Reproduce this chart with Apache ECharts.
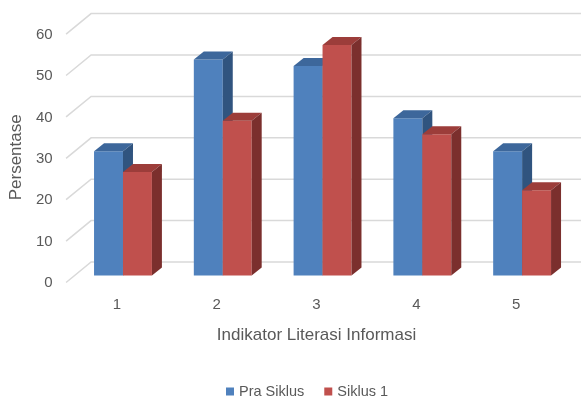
<!DOCTYPE html>
<html>
<head>
<meta charset="utf-8">
<script src="https://cdn.jsdelivr.net/npm/echarts@6/dist/echarts.min.js"></script>
<style>
  html, body { margin: 0; padding: 0; background: #fff; }
  #chart { width: 581px; height: 399px; }
</style>
</head>
<body>
<div id="chart"></div>
<script>
const categories = ['1', '2', '3', '4', '5']
const praSiklus = [30, 52.2, 50.6, 38, 30]
const siklus1 = [25, 37.4, 55.7, 34.1, 20.6]
const yTicks = [0, 10, 20, 30, 40, 50, 60]

const textColor = '#595959'
const fontFamily = 'Liberation Sans'
// front, top, side
const blueFaces = ['#4F81BD', '#3D679B', '#30547F']
const redFaces = ['#C0504D', '#9C3D3A', '#7B2F2D']

// depth of the fake 3D box
const dx = 10
const dy = -8

function barRender(pos, faces) {
  return function (params, api) {
    const i = api.value(0)
    const v = api.value(1)
    const base = api.coord([i, 0])
    const top = api.coord([i, v])
    const w = api.size([1, 0])[0] * 0.29
    const x = base[0] + (pos === 0 ? -w : 0)
    const y0 = base[1]
    const y1 = top[1]
    return {
      type: 'group',
      children: [
        { type: 'rect', shape: { x: x, y: y1, width: w, height: y0 - y1 }, style: { fill: faces[0] } },
        { type: 'polygon', shape: { points: [[x, y1], [x + dx, y1 + dy], [x + w + dx, y1 + dy], [x + w, y1]] }, style: { fill: faces[1] } },
        { type: 'polygon', shape: { points: [[x + w, y1], [x + w + dx, y1 + dy], [x + w + dx, y0 + dy], [x + w, y0]] }, style: { fill: faces[2] } }
      ]
    }
  }
}

// gridlines sit on the floor edge and back wall
function gridRender(params, api) {
  const p = api.coord([0, api.value(1)])
  const left = p[0] - api.size([1, 0])[0] / 2
  return {
    type: 'polyline',
    shape: { points: [[left - 7, p[1] + 7], [left + 18, p[1] - 13.5], [api.getWidth(), p[1] - 13.5]] },
    style: { stroke: '#D9D9D9', lineWidth: 1.5, fill: null }
  }
}

const chart = echarts.init(document.getElementById('chart'))
chart.setOption({
  animation: false,
  textStyle: { fontFamily: fontFamily },
  grid: { left: 70.5, right: 9, top: 27.1, bottom: 123.5 },
  legend: {
    left: 221,
    top: 379,
    icon: 'rect',
    itemWidth: 8,
    itemHeight: 8,
    itemGap: 20,
    textStyle: { color: textColor, fontSize: 14.5, fontFamily: fontFamily },
    data: [
      { name: 'Pra Siklus', itemStyle: { color: blueFaces[0] } },
      { name: 'Siklus 1', itemStyle: { color: redFaces[0] } }
    ]
  },
  xAxis: {
    type: 'category',
    data: categories,
    name: 'Indikator Literasi Informasi',
    nameLocation: 'middle',
    nameGap: 51,
    nameTextStyle: { color: textColor, fontSize: 17, padding: [0, 12, 0, 0] },
    axisLine: { show: false },
    axisTick: { show: false },
    axisLabel: { color: textColor, fontSize: 15, margin: 22, padding: [0, 12, 0, 0] }
  },
  yAxis: {
    type: 'value',
    min: 0,
    max: 60,
    interval: 10,
    name: 'Persentase',
    nameLocation: 'middle',
    nameRotate: 90,
    nameGap: 43,
    nameTextStyle: { color: textColor, fontSize: 17, padding: [0, 12, 0, 0] },
    axisLine: { show: false },
    axisTick: { show: false },
    splitLine: { show: false },
    axisLabel: { color: textColor, fontSize: 15, margin: 20.5, verticalAlign: 'top' }
  },
  series: [
    {
      type: 'custom',
      silent: true,
      z: 1,
      renderItem: gridRender,
      data: yTicks.map(v => [0, v])
    },
    {
      name: 'Pra Siklus',
      type: 'custom',
      z: 2,
      itemStyle: { color: blueFaces[0] },
      renderItem: barRender(0, blueFaces),
      data: praSiklus.map((v, i) => [i, v])
    },
    {
      name: 'Siklus 1',
      type: 'custom',
      z: 3,
      itemStyle: { color: redFaces[0] },
      renderItem: barRender(1, redFaces),
      data: siklus1.map((v, i) => [i, v])
    }
  ]
})
</script>
</body>
</html>
